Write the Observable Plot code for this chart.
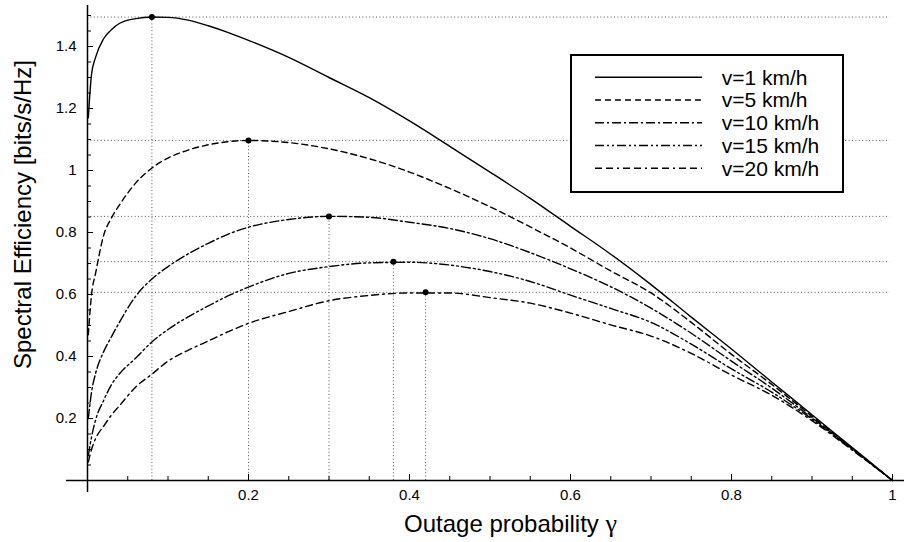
<!DOCTYPE html>
<html><head><meta charset="utf-8">
<script src="https://cdn.jsdelivr.net/npm/d3@7"></script>
<script src="https://cdn.jsdelivr.net/npm/@observablehq/plot@0.6"></script>
<style>
html,body{margin:0;padding:0;background:#fff;}
#wrap{position:relative;width:904px;height:542px;font-family:"Liberation Sans",Arial,sans-serif;}
</style></head><body><div id="wrap"></div>
<script>
// ---- data ----
const seriesNames = ["v=1 km/h", "v=5 km/h", "v=10 km/h", "v=15 km/h", "v=20 km/h"];
const gamma = [0.001,0.005,0.01,0.02,0.03,0.04,0.06,0.08,0.1,0.125,0.15,0.175,0.2,0.25,0.3,0.35,0.4,0.45,0.5,0.55,0.6,0.65,0.7,0.75,0.8,0.85,0.9,0.95,1.0];
const seV1  = [1.17,1.31,1.365,1.425,1.455,1.475,1.49,1.495,1.494,1.485,1.467,1.445,1.42,1.365,1.30,1.235,1.16,1.078,0.995,0.91,0.82,0.73,0.632,0.527,0.424,0.318,0.212,0.106,0];
const seV5  = [0.47,0.6,0.668,0.79,0.848,0.89,0.96,1.008,1.04,1.066,1.083,1.093,1.097,1.09,1.07,1.038,0.995,0.942,0.883,0.818,0.75,0.676,0.605,0.51,0.407,0.31,0.207,0.104,0];
const seV10 = [0.2,0.285,0.345,0.415,0.465,0.512,0.595,0.65,0.69,0.731,0.765,0.795,0.817,0.842,0.852,0.849,0.833,0.813,0.78,0.735,0.683,0.625,0.556,0.475,0.385,0.298,0.202,0.102,0];
const seV15 = [0.08,0.14,0.195,0.258,0.31,0.345,0.395,0.447,0.487,0.528,0.563,0.596,0.624,0.668,0.69,0.702,0.704,0.695,0.674,0.642,0.598,0.555,0.51,0.44,0.36,0.285,0.198,0.1,0];
const seV20 = [0.06,0.1,0.135,0.175,0.212,0.242,0.302,0.343,0.385,0.42,0.45,0.48,0.507,0.545,0.58,0.597,0.605,0.605,0.59,0.572,0.54,0.502,0.466,0.41,0.34,0.275,0.193,0.098,0];
const peakGamma = [0.08, 0.2, 0.3, 0.38, 0.42];
const peakSE    = [1.495, 1.097, 0.852, 0.706, 0.607];
const xTickLabels = [0.2, 0.4, 0.6, 0.8, 1];
const yTickLabels = [0.2, 0.4, 0.6, 0.8, 1, 1.2, 1.4];
const xTitle = "Outage probability γ";
const yTitle = "Spectral Efficiency [bits/s/Hz]";

// ---- styling ----
const dashes = [null, "6,4", "9,3,2,3", "9,3,2,3,2,3", "7,4,7,4,2,4"];
const seValues = [seV1, seV5, seV10, seV15, seV20];
const series = seriesNames.map((name, i) => gamma.map((g, j) => ({series: name, g, se: seValues[i][j]})));
const peaks = peakGamma.map((g, i) => ({g, se: peakSE[i]}));
const xMinor = d3.range(1, 21).map(k => k * 0.05);
const yMinor = d3.range(1, 31).map(k => k * 0.05);
const gridStyle = {stroke: "#555", strokeWidth: 1, strokeDasharray: "1,2.4"};
const font = "'Liberation Sans', Arial, sans-serif";

const chart = Plot.plot({
  width: 904, height: 542,
  marginLeft: 87, marginRight: 12, marginTop: 15, marginBottom: 62,
  x: {domain: [0, 1], axis: null},
  y: {domain: [0, 1.5], axis: null},
  style: {fontFamily: font, background: "white", color: "black"},
  marks: [
    Plot.ruleY(peaks, {y: "se", x1: 0, x2: 0.997, ...gridStyle}),
    Plot.ruleX(peaks, {x: "g", y1: 0, y2: "se", ...gridStyle}),
    ...series.map((s, i) => Plot.line(s, {x: "g", y: "se", stroke: "black", strokeWidth: 1.4, strokeDasharray: dashes[i], curve: "monotone-x"})),
    Plot.dot(peaks, {x: "g", y: "se", r: 3, fill: "black"}),
    // axis lines
    Plot.ruleY([0], {x1: -0.026, x2: 1.015, stroke: "black", strokeWidth: 1.5}),
    Plot.ruleX([0], {y1: -0.039, y2: 1.532, stroke: "black", strokeWidth: 1.5}),
    // inward ticks
    Plot.ruleX(xMinor, {x: d => d, y1: 0, y2: 0, insetBottom: 4, stroke: "black"}),
    Plot.ruleX(xTickLabels, {x: d => d, y1: 0, y2: 0, insetBottom: 6, stroke: "black"}),
    Plot.ruleY(yMinor, {y: d => d, x1: 0, x2: 0, insetRight: -4, stroke: "black"}),
    Plot.ruleY(yTickLabels, {y: d => d, x1: 0, x2: 0, insetRight: -6, stroke: "black"}),
    // tick labels
    Plot.text(xTickLabels, {x: d => d, y: 0, text: d => String(d), dy: 15, lineAnchor: "middle", fontSize: 15}),
    Plot.text(yTickLabels, {x: 0, y: d => d, text: d => String(d), textAnchor: "end", dx: -11, lineAnchor: "middle", fontSize: 15}),
    // axis titles
    Plot.text([xTitle], {frameAnchor: "bottom", text: d => d, textAnchor: "middle", dx: 20.5, dy: 44, lineAnchor: "middle", fontSize: 24}),
    Plot.text([yTitle], {frameAnchor: "left", text: d => d, textAnchor: "middle", rotate: -90, dx: -64, dy: -33.5, lineAnchor: "middle", fontSize: 24})
  ]
});

// serif gamma in the x title
d3.select(chart).selectAll("text").each(function() {
  if (this.textContent === xTitle) {
    const t = d3.select(this);
    t.text(null);
    t.append("tspan").text("Outage probability ");
    t.append("tspan").attr("font-family", "'Liberation Serif', 'Times New Roman', serif").attr("font-size", 26).text("γ");
  }
});

const wrap = document.getElementById("wrap");
wrap.appendChild(chart);

// legend
const legend = d3.create("svg").attr("width", 274).attr("height", 140)
  .style("position", "absolute").style("left", "570px").style("top", "54px");
legend.append("rect").attr("x", 1).attr("y", 1).attr("width", 272).attr("height", 137)
  .attr("fill", "white").attr("stroke", "black").attr("stroke-width", 2);
seriesNames.forEach((name, i) => {
  const y = 23.3 + i * 22.75;
  legend.append("line").attr("x1", 25).attr("x2", 132).attr("y1", y).attr("y2", y)
    .attr("stroke", "black").attr("stroke-width", 1.4).attr("stroke-dasharray", dashes[i]);
  legend.append("text").attr("x", 151.7).attr("y", y).attr("dy", "0.35em")
    .attr("font-family", font).attr("font-size", 21).text(name);
});
wrap.appendChild(legend.node());
</script></body></html>
